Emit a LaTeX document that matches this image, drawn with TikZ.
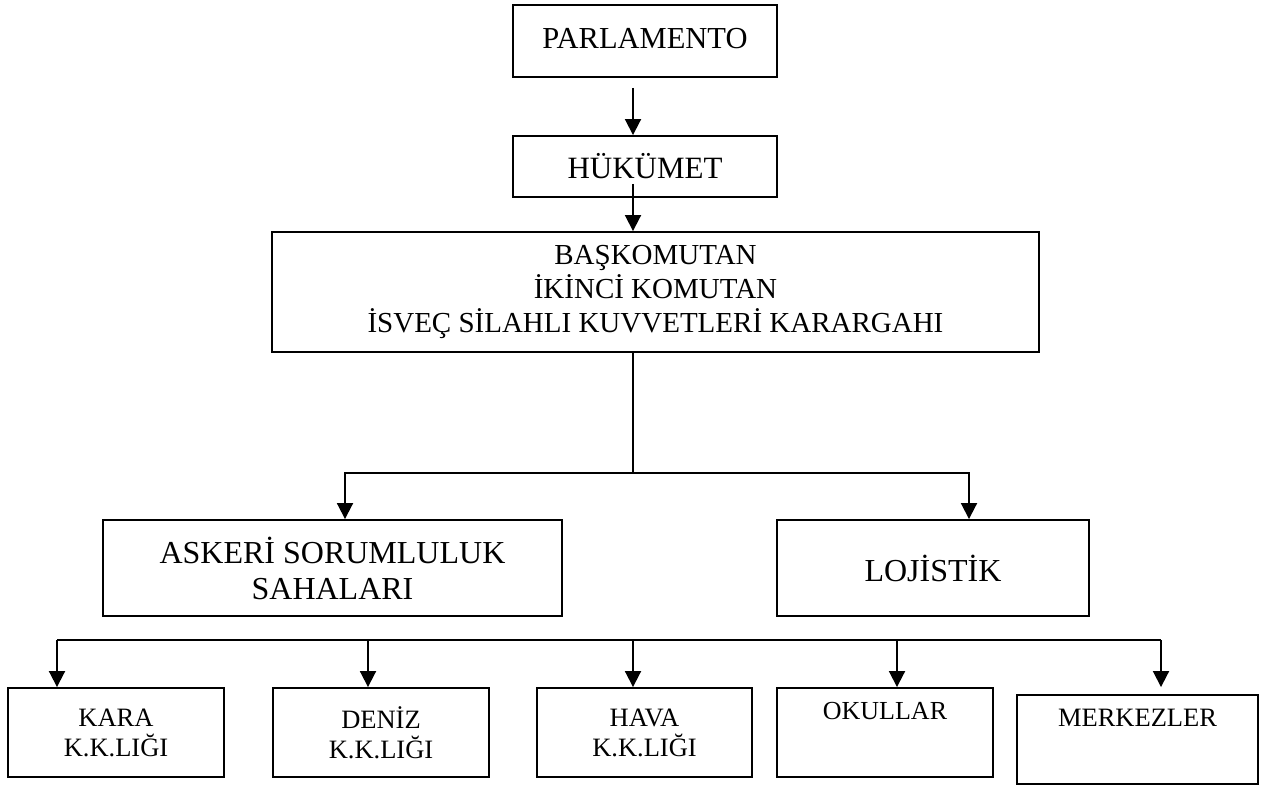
\documentclass[tikz,border=0pt]{standalone}
\usepackage{fontspec}
\setmainfont{Liberation Serif}
\usetikzlibrary{arrows.meta}

\begin{document}
\begin{tikzpicture}[x=1pt, y=-1pt,
        box/.style={draw, line width=1.9pt, align=center, inner sep=0pt},
        arr/.style={line width=1.9pt, -{Triangle[width=16pt,length=16pt]}}]
            \useasboundingbox (0,0) rectangle (1269,785);
            \node[box, minimum width=264pt, minimum height=72pt, font=\fontsize{30.5pt}{36pt}\selectfont] (parl) at (645,41) {\raisebox{6pt}{PARLAMENTO}};
            \node[box, minimum width=264pt, minimum height=61pt, font=\fontsize{31pt}{36pt}\selectfont] (huk) at (645,166.5) {HÜKÜMET};
            \node[box, minimum width=767pt, minimum height=120pt, font=\fontsize{29pt}{34pt}\selectfont] (hq) at (655.5,292) {BAŞKOMUTAN\\İKİNCİ KOMUTAN\\İSVEÇ SİLAHLI KUVVETLERİ KARARGAHI};
            \node[box, minimum width=459pt, minimum height=96pt, font=\fontsize{32pt}{36pt}\selectfont] (askeri) at (332.5,568) {ASKERİ SORUMLULUK\\SAHALARI};
            \node[box, minimum width=312pt, minimum height=96pt, font=\fontsize{32pt}{36pt}\selectfont] (loj) at (933,568) {\raisebox{-13pt}{LOJİSTİK}};
            \node[box, minimum width=216pt, minimum height=89pt, font=\fontsize{26.5pt}{30pt}\selectfont] (kara) at (116,732.5) {KARA\\K.K.LIĞI};
            \node[box, minimum width=216pt, minimum height=89pt, font=\fontsize{26.5pt}{30pt}\selectfont] (deniz) at (381,732.5) {DENİZ\\K.K.LIĞI};
            \node[box, minimum width=215pt, minimum height=89pt, font=\fontsize{26.5pt}{30pt}\selectfont] (hava) at (644.5,732.5) {HAVA\\K.K.LIĞI};
            \node[box, minimum width=216pt, minimum height=89pt, font=\fontsize{26pt}{34pt}\selectfont] (okul) at (885,732.5) {OKULLAR\\\strut};
            \node[box, minimum width=241pt, minimum height=89pt, font=\fontsize{26.5pt}{34pt}\selectfont] (merk) at (1137.5,739.5) {MERKEZLER\\\strut};
            \coordinate (fork) at (633,473);
            \draw[arr] ([yshift=-10pt]parl.south -| fork) -- (huk.north -| fork);
            \draw[arr] ([yshift=14pt]huk.south -| fork) -- (hq.north -| fork);
            \draw[line width=1.9pt] (hq.south -| fork) -- (fork);
            \draw[arr] (fork) -| ([xshift=12.5pt]askeri.north);
            \draw[arr] (fork) -| ([xshift=36pt]loj.north);
            \coordinate (busw) at (57,640);
            \coordinate (buse) at (1161,640);
            \draw[line width=1.9pt] (busw) -- (buse);
            \foreach \i/\x in {1/57, 2/368, 3/633, 4/897, 5/1161} {
                \coordinate (d\i) at (\x,640);
                \draw[arr] (d\i) -- (d\i |- kara.north);
            }
        \end{tikzpicture}
\end{document}
